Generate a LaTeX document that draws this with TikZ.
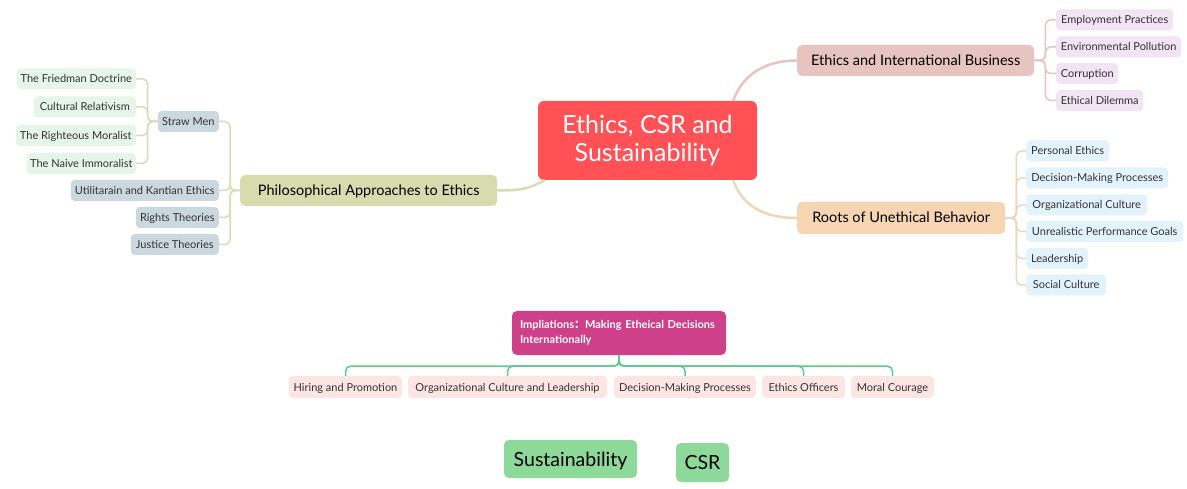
\documentclass[tikz,border=0pt]{standalone}
\usepackage{fontspec}
\setmainfont{Lato}
\newfontfamily\cjk{Noto Sans CJK SC}
\definecolor{txt}{HTML}{333333}
\definecolor{central}{HTML}{FF5156}
\definecolor{ibfill}{HTML}{E8C4C0}
\definecolor{ibline}{HTML}{E8C4C0}
\definecolor{ibchild}{HTML}{F2E3F5}
\definecolor{rtfill}{HTML}{F5D5B2}
\definecolor{rtline}{HTML}{F0D6B8}
\definecolor{rtchild}{HTML}{E3F3FC}
\definecolor{phfill}{HTML}{D8DBAE}
\definecolor{phline}{HTML}{DADCB4}
\definecolor{phchild}{HTML}{CCD8E0}
\definecolor{smchild}{HTML}{E6F5E9}
\definecolor{impfill}{HTML}{CE418A}
\definecolor{impchild}{HTML}{FCE6E4}
\definecolor{impline}{HTML}{5DCB8C}
\definecolor{greenbox}{HTML}{8DD99A}
\tikzset{
  bx/.style={rounded corners=4pt, inner sep=0pt, text=txt, font=\fontsize{11}{13}\selectfont, minimum height=21pt, text height=8pt, text depth=0pt},
  lvl/.style={rounded corners=5pt, inner sep=0pt, text=black, font=\fontsize{14.5}{17}\selectfont, minimum height=31pt, text height=10.5pt, text depth=0.5pt},
  conn/.style={line width=1.5pt, rounded corners=5pt},
  mainconn/.style={line width=2.5pt},
}
\begin{document}
\begin{tikzpicture}[x=1pt,y=-1pt]
\useasboundingbox[fill=white] (0,0) rectangle (1187,489);

% central
\node[rounded corners=6pt, fill=central, text=white, inner sep=0pt, minimum width=219pt, minimum height=79pt, align=center, font=\fontsize{25}{28}\selectfont] (c) at (647.5,140.5) {Ethics, CSR and\\Sustainability};

% Ethics and International Business
\node[lvl, fill=ibfill, minimum width=237pt, anchor=west] (ib) at (797,60.5) {Ethics and International Business};
\node[bx, fill=ibchild, minimum width=117pt, anchor=west] (ib1) at (1056,20) {Employment Practices};
\node[bx, fill=ibchild, minimum width=125pt, anchor=west] (ib2) at (1056,47) {Environmental Pollution};
\node[bx, fill=ibchild, minimum width=62pt, anchor=west] (ib3) at (1056,73.5) {Corruption};
\node[bx, fill=ibchild, minimum width=87pt, anchor=west] (ib4) at (1056,100.5) {Ethical Dilemma};
\foreach \n in {ib1,ib2,ib3,ib4}
  \draw[conn, ibline] (ib.east) -- ++(11,0) |- (\n.west);

% Roots of Unethical Behavior
\node[lvl, fill=rtfill, minimum width=208pt, minimum height=32pt, anchor=west] (rt) at (797,218) {Roots of Unethical Behavior};
\node[bx, fill=rtchild, minimum width=83pt, anchor=west] (rt1) at (1026,151) {Personal Ethics};
\node[bx, fill=rtchild, minimum width=142pt, anchor=west] (rt2) at (1026,178) {Decision-Making Processes};
\node[bx, fill=rtchild, minimum width=121pt, anchor=west] (rt3) at (1026,205) {Organizational Culture};
\node[bx, fill=rtchild, minimum width=157pt, anchor=west] (rt4) at (1026,231.5) {Unrealistic Performance Goals};
\node[bx, fill=rtchild, minimum width=62pt, anchor=west] (rt5) at (1026,258.5) {Leadership};
\node[bx, fill=rtchild, minimum width=80pt, anchor=west] (rt6) at (1026,285) {Social Culture};
\foreach \n in {rt1,rt2,rt3,rt4,rt5,rt6}
  \draw[conn, rtline] (rt.east) -- ++(11,0) |- (\n.west);

% Philosophical Approaches to Ethics
\node[lvl, fill=phfill, minimum width=257pt, anchor=west] (ph) at (240,190.5) {Philosophical Approaches to Ethics};
\node[bx, fill=phchild, minimum width=61pt, anchor=east] (ph1) at (219,121.5) {Straw Men};
\node[bx, fill=phchild, minimum width=148pt, anchor=east] (ph2) at (219,190.5) {Utilitarain and Kantian Ethics};
\node[bx, fill=phchild, minimum width=83pt, anchor=east] (ph3) at (219,217.5) {Rights Theories};
\node[bx, fill=phchild, minimum width=88pt, anchor=east] (ph4) at (219,244.5) {Justice Theories};
\foreach \n in {ph1,ph2,ph3,ph4}
  \draw[conn, phline] (ph.west) -- ++(-10,0) |- (\n.east);
\node[bx, fill=smchild, minimum width=119pt, anchor=east] (sm1) at (136,79) {The Friedman Doctrine};
\node[bx, fill=smchild, minimum width=102pt, anchor=east] (sm2) at (136,107) {Cultural Relativism};
\node[bx, fill=smchild, minimum width=120pt, anchor=east] (sm3) at (136,135.5) {The Righteous Moralist};
\node[bx, fill=smchild, minimum width=109pt, anchor=east] (sm4) at (136,163.5) {The Naive Immoralist};
\foreach \n in {sm1,sm2,sm3,sm4}
  \draw[conn, phline] (ph1.west) -- ++(-10,0) |- (\n.east);

% main curves
\draw[mainconn, ibline] ([xshift=-24pt]c.north east) .. controls +(10,-28) and +(-30,0) .. (ib.west);
\draw[mainconn, rtline] ([xshift=-24pt]c.south east) .. controls +(10,28) and +(-30,0) .. (rt.west);
\draw[mainconn, phline] ([xshift=7pt]c.south west) .. controls +(-15,8) and +(25,0) .. (ph.east);

% Implications
\node[rounded corners=5pt, fill=impfill, text=white, inner xsep=8pt, inner ysep=0pt, text width=198pt, minimum height=44pt, align=left, font=\fontsize{11}{15}\selectfont\bfseries] (imp) at (619,333) {Impliations{\cjk ：}Making Etheical Decisions\\Internationally};
\node[bx, fill=impchild, minimum width=113pt, minimum height=22pt] (im1) at (345.5,387) {Hiring and Promotion};
\node[bx, fill=impchild, minimum width=199pt, minimum height=22pt] (im2) at (507.5,387) {Organizational Culture and Leadership};
\node[bx, fill=impchild, minimum width=142pt, minimum height=22pt] (im3) at (685,387) {Decision-Making Processes};
\node[bx, fill=impchild, minimum width=83pt, minimum height=22pt] (im4) at (803.5,387) {Ethics Officers};
\node[bx, fill=impchild, minimum width=83pt, minimum height=22pt] (im5) at (892.5,387) {Moral Courage};
\foreach \n in {im1,im2,im3,im4,im5}
  \draw[conn, impline] (imp.south) -- ++(0,11) -| (\n.north);

% floating
\node[rounded corners=5pt, fill=greenbox, text=black, inner sep=0pt, minimum width=133pt, minimum height=38pt, font=\fontsize{19.5}{22}\selectfont, text height=14pt, text depth=0pt] (sus) at (570.5,459) {Sustainability};
\node[rounded corners=5pt, fill=greenbox, text=black, inner sep=0pt, minimum width=53pt, minimum height=39pt, font=\fontsize{19.5}{22}\selectfont, text height=14pt, text depth=0pt] (csr) at (702.5,462.5) {CSR};
\end{tikzpicture}
\end{document}
